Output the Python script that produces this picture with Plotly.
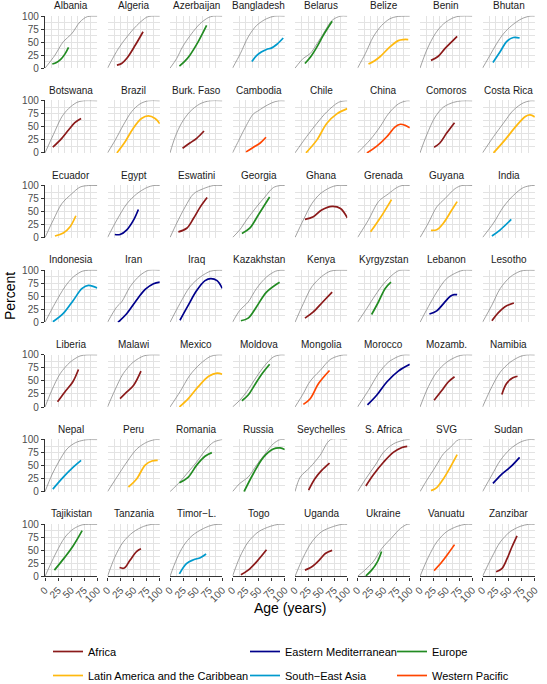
import plotly.graph_objects as go

countries = ["Albania", "Algeria", "Azerbaijan", "Bangladesh", "Belarus", "Belize", "Benin", "Bhutan",
             "Botswana", "Brazil", "Burk. Faso", "Cambodia", "Chile", "China", "Comoros", "Costa Rica",
             "Ecuador", "Egypt", "Eswatini", "Georgia", "Ghana", "Grenada", "Guyana", "India",
             "Indonesia", "Iran", "Iraq", "Kazakhstan", "Kenya", "Kyrgyzstan", "Lebanon", "Lesotho",
             "Liberia", "Malawi", "Mexico", "Moldova", "Mongolia", "Morocco", "Mozamb.", "Namibia",
             "Nepal", "Peru", "Romania", "Russia", "Seychelles", "S. Africa", "SVG", "Sudan",
             "Tajikistan", "Tanzania", "Timor\u2212L.", "Togo", "Uganda", "Ukraine", "Vanuatu", "Zanzibar"]

AF, EM, EU, LA, SE, WP = ("Africa", "Eastern Mediterranean", "Europe",
                          "Latin America and the Caribbean", "South\u2212East Asia", "Western Pacific")
regions = [EU, AF, EU, SE, EU, LA, AF, SE,
           AF, LA, AF, WP, LA, WP, AF, LA,
           LA, EM, AF, EU, AF, LA, LA, SE,
           SE, EM, EM, EU, AF, EU, EM, AF,
           AF, AF, LA, EU, WP, EM, AF, AF,
           SE, LA, EU, EU, AF, AF, LA, EM,
           EU, AF, SE, AF, AF, EU, WP, AF]

region_order = [AF, LA, EM, SE, EU, WP]
region_colors = ["#8B1A1A", "#FFB90F", "#00008B", "#009ACD", "#228B22", "#FF4500"]

# reference (grey) curves: age, percent
ref_age = [
    [0, 19, 35, 51, 67, 81, 100], [0, 21, 37, 56, 75, 84, 100], [0, 13, 24, 41, 57, 73, 83, 100],
    [0, 15, 30, 46, 65, 81, 100], [0, 16, 29, 42, 54, 71, 87, 100], [0, 15, 30, 46, 62, 75, 100],
    [0, 13, 29, 45, 64, 77, 100], [0, 11, 27, 40, 56, 75, 91, 100],
    [0, 16, 32, 45, 61, 73, 100], [0, 15, 30, 46, 62, 78, 100], [0, 10, 22, 38, 57, 76, 100],
    [0, 12, 25, 40, 48, 60, 75, 88, 100], [0, 22, 42, 61, 83, 96, 100], [0, 24, 43, 59, 78, 94, 100],
    [0, 13, 29, 45, 64, 80, 100], [0, 21, 40, 59, 78, 91, 100],
    [0, 16, 32, 51, 67, 83, 100], [0, 18, 37, 56, 75, 88, 100], [0, 13, 29, 45, 64, 83, 100],
    [0, 14, 27, 46, 62, 78, 91, 100], [0, 16, 32, 48, 67, 80, 100], [0, 21, 40, 59, 75, 85, 100],
    [0, 16, 32, 48, 67, 80, 100], [0, 21, 40, 59, 78, 94, 100],
    [0, 19, 38, 54, 71, 83, 100], [0, 18, 27, 43, 62, 79, 100], [0, 19, 38, 58, 77, 90, 100],
    [0, 14, 30, 46, 65, 82, 91, 100], [0, 16, 32, 51, 67, 80, 100], [0, 18, 34, 50, 69, 81, 100],
    [0, 16, 32, 51, 71, 83, 100], [0, 18, 34, 53, 72, 85, 100],
    [0, 13, 29, 48, 67, 80, 100], [0, 14, 30, 49, 69, 81, 100], [0, 19, 38, 58, 77, 90, 100],
    [0, 14, 27, 46, 62, 78, 91, 100], [0, 16, 26, 36, 48, 67, 83, 93, 100], [0, 21, 40, 59, 78, 88, 100],
    [0, 16, 32, 51, 71, 83, 100], [0, 18, 34, 53, 72, 85, 100],
    [0, 13, 26, 42, 58, 74, 83, 100], [0, 18, 37, 56, 75, 91, 100], [0, 19, 35, 51, 67, 83, 99, 100],
    [0, 14, 30, 46, 65, 78, 91, 100], [0, 10, 29, 48, 68, 100], [0, 18, 34, 50, 69, 85, 95, 100],
    [0, 13, 29, 45, 58, 74, 100], [0, 18, 34, 53, 72, 88, 100],
    [0, 10, 22, 38, 54, 71, 83, 100], [0, 14, 30, 49, 69, 85, 100], [0, 13, 26, 42, 64, 83, 96, 100],
    [0, 14, 30, 50, 72, 88, 100], [0, 16, 32, 51, 74, 90, 100], [0, 14, 30, 46, 66, 82, 95, 100],
    [0, 16, 32, 51, 71, 87, 100], [0, 18, 34, 53, 72, 88, 100],
]
ref_pct = [
    [0, 25, 51, 66, 89, 99, 100], [0, 38, 60, 82, 98, 100, 100], [0, 19, 41, 66, 85, 97, 100, 100],
    [0, 28, 60, 82, 95, 100, 100], [0, 19, 28, 47, 66, 92, 100, 100], [0, 28, 60, 82, 95, 99, 100],
    [0, 35, 66, 85, 97, 100, 100], [0, 19, 47, 66, 82, 95, 100, 100],
    [0, 35, 69, 85, 97, 100, 100], [0, 25, 53, 79, 94, 100, 100], [0, 31, 57, 79, 94, 100, 100],
    [0, 24, 50, 75, 80, 88, 96, 100, 100], [0, 31, 57, 79, 97, 100, 100], [0, 25, 50, 75, 94, 100, 100],
    [0, 35, 69, 88, 97, 100, 100], [0, 31, 57, 82, 96, 100, 100],
    [0, 34, 65, 84, 97, 100, 100], [0, 34, 65, 84, 96, 100, 100], [0, 28, 59, 84, 94, 100, 100],
    [0, 15, 34, 59, 78, 96, 100, 100], [0, 34, 65, 84, 96, 100, 100], [0, 34, 69, 84, 96, 100, 100],
    [0, 28, 59, 75, 94, 100, 100], [0, 28, 59, 81, 96, 100, 100],
    [0, 36, 68, 87, 98, 100, 100], [0, 30, 39, 68, 90, 100, 100], [0, 36, 68, 87, 98, 100, 100],
    [0, 23, 39, 65, 87, 98, 100, 100], [0, 36, 68, 88, 98, 100, 100], [0, 27, 52, 74, 93, 100, 100],
    [0, 30, 58, 84, 96, 100, 100], [0, 33, 65, 87, 98, 100, 100],
    [0, 32, 64, 86, 98, 100, 100], [0, 32, 64, 86, 98, 100, 100], [0, 29, 61, 83, 97, 100, 100],
    [0, 13, 29, 58, 80, 96, 100, 100], [0, 26, 45, 58, 70, 91, 98, 100, 100], [0, 32, 64, 86, 97, 100, 100],
    [0, 39, 67, 86, 97, 100, 100], [0, 39, 67, 86, 97, 100, 100],
    [0, 32, 57, 82, 94, 99, 100, 100], [0, 28, 57, 82, 95, 100, 100], [0, 19, 38, 57, 79, 95, 100, 100],
    [0, 16, 28, 51, 76, 92, 100, 100], [0, 28, 47, 70, 100, 100], [0, 28, 51, 76, 92, 98, 100, 100],
    [0, 22, 47, 73, 85, 100, 100], [0, 32, 60, 82, 95, 100, 100],
    [0, 22, 47, 75, 91, 99, 100, 100], [0, 37, 66, 85, 96, 100, 100], [0, 34, 59, 78, 92, 99, 100, 100],
    [0, 37, 66, 86, 96, 100, 100], [0, 37, 66, 86, 96, 100, 100], [0, 12, 28, 53, 75, 92, 100, 100],
    [0, 37, 66, 86, 96, 100, 100], [0, 37, 66, 86, 96, 100, 100],
]

# observed (coloured) curves: age, percent
obs_age = [
    [14, 22, 30, 38, 45], [18, 27, 37, 53, 68], [18, 28, 38, 54, 70], [37, 46, 55, 65, 75, 85, 97],
    [19, 30, 42, 54, 71], [21, 32, 43, 62, 78, 88, 97], [21, 35, 48, 60, 71], [20, 34, 46, 59, 71],
    [15, 32, 45, 57, 69], [18, 34, 49, 65, 78, 91, 100], [24, 38, 51, 65], [26, 40, 53, 64],
    [21, 42, 61, 80, 100], [18, 37, 56, 72, 82, 91, 100], [27, 38, 51, 66], [21, 43, 63, 82, 91, 100],
    [19, 35, 48, 59], [14, 24, 37, 50, 59], [16, 32, 45, 58, 71], [18, 33, 49, 71],
    [19, 35, 51, 71, 87, 100], [25, 43, 65], [21, 32, 45, 59, 71], [18, 34, 55],
    [15, 35, 54, 71, 83, 100], [20, 37, 53, 72, 88, 100], [19, 35, 51, 67, 78, 90, 100], [16, 30, 46, 65, 90],
    [19, 35, 53, 71], [27, 40, 53, 64], [18, 32, 45, 58, 65, 71], [18, 30, 43, 60],
    [24, 38, 53, 64], [24, 37, 50, 64], [18, 35, 54, 74, 90, 100], [18, 30, 46, 59, 71],
    [16, 29, 45, 66], [19, 37, 56, 78, 100], [27, 42, 54, 66], [37, 46, 58, 67],
    [15, 35, 54, 69], [40, 56, 72, 85, 96], [18, 35, 51, 67, 80], [22, 40, 59, 78, 91, 100],
    [26, 38, 51, 66], [16, 30, 50, 69, 85, 95], [21, 32, 45, 58, 71], [20, 35, 53, 71],
    [18, 38, 54, 71], [23, 32, 43, 56, 64], [18, 32, 45, 58, 69], [16, 30, 46, 65],
    [19, 30, 38, 48, 58, 71], [16, 27, 38, 46], [27, 42, 54, 66], [26, 37, 47, 56, 66],
]
obs_pct = [
    [8, 11, 17, 27, 40], [6, 9, 19, 44, 70], [4, 13, 25, 51, 82], [13, 24, 31, 36, 39, 46, 58],
    [9, 22, 41, 63, 90], [8, 14, 22, 41, 53, 55, 55], [15, 23, 38, 50, 61], [11, 32, 51, 59, 58],
    [11, 28, 44, 58, 66], [0, 22, 47, 66, 71, 66, 56], [9, 19, 28, 42], [2, 11, 19, 30],
    [0, 25, 57, 75, 85], [0, 13, 31, 50, 55, 53, 48], [11, 19, 38, 58], [0, 25, 50, 70, 73, 69],
    [3, 9, 21, 42], [6, 6, 15, 34, 54], [11, 18, 37, 59, 77], [8, 18, 43, 78],
    [35, 40, 53, 60, 56, 38], [11, 37, 73], [14, 15, 28, 50, 69], [3, 15, 35],
    [1, 17, 42, 65, 71, 66], [0, 17, 39, 63, 74, 77], [4, 33, 61, 80, 84, 80, 65], [3, 8, 30, 58, 77],
    [8, 20, 39, 58], [15, 39, 65, 77], [16, 22, 36, 50, 53, 53], [3, 18, 30, 37],
    [10, 29, 48, 72], [16, 29, 42, 69], [0, 16, 39, 59, 65, 63], [12, 23, 48, 67, 82],
    [5, 16, 45, 70], [4, 23, 48, 69, 82], [13, 32, 48, 58], [24, 45, 56, 59],
    [5, 28, 47, 60], [9, 25, 51, 59, 60], [17, 28, 51, 68, 75], [0, 35, 66, 82, 84, 81],
    [3, 25, 41, 55], [11, 32, 57, 76, 85, 87], [2, 8, 25, 47, 71], [16, 32, 47, 66],
    [12, 37, 59, 88], [17, 16, 31, 48, 53], [5, 25, 32, 36, 43], [3, 12, 28, 51],
    [12, 17, 23, 33, 44, 50], [1, 12, 28, 48], [11, 28, 44, 61], [9, 15, 34, 56, 78],
]

tick_vals = [0, 25, 50, 75, 100]
tick_text = ["0", "25", "50", "75", "100"]

# ---------------------------------------------------------------- layout
W, H = 547, 684
NCOL = 8
COL0, COLSTEP, PW = 45.0, 62.5, 52.3
ROW0, ROWSTEP, PH = 15.7, 84.7, 52.5
FONT = "Liberation Sans, Arial, sans-serif"
GRID = "#e3e3e3"
AXC = "#333333"

fig = go.Figure()
layout = {}
annotations = []
first_seen = set()
legend_of = {AF: "legend", LA: "legend", EM: "legend2", SE: "legend2", EU: "legend3", WP: "legend3"}

for i, name in enumerate(countries):
    r, c = divmod(i, NCOL)
    k = i + 1
    xa = "x" if k == 1 else f"x{k}"
    ya = "y" if k == 1 else f"y{k}"
    x0 = COL0 + c * COLSTEP
    x1 = x0 + PW
    top = ROW0 + r * ROWSTEP
    bot = top + PH
    bottom_row = (r == 6)
    left_col = (c == 0)

    layout["xaxis" if k == 1 else f"xaxis{k}"] = dict(
        domain=[x0 / W, x1 / W], range=[0, 100], anchor=ya, fixedrange=True,
        tickvals=tick_vals, ticktext=tick_text, showticklabels=bottom_row, tickangle=-45,
        ticks="outside" if bottom_row else "", ticklen=3, tickcolor=AXC, tickwidth=1.2,
        tickfont=dict(size=10, color="#4d4d4d", family=FONT),
        showgrid=True, gridcolor=GRID, gridwidth=0.7, zeroline=False,
        minor=dict(tickvals=[12.5, 37.5, 62.5, 87.5], showgrid=True, gridcolor=GRID, gridwidth=0.7),
        showline=bottom_row, linecolor=AXC, linewidth=1.4, automargin=False,
    )
    layout["yaxis" if k == 1 else f"yaxis{k}"] = dict(
        domain=[1 - bot / H, 1 - top / H], range=[0, 100.8], anchor=xa, fixedrange=True,
        tickvals=tick_vals, ticktext=tick_text, showticklabels=left_col,
        ticks="outside" if left_col else "", ticklen=3, tickcolor=AXC, tickwidth=1.2,
        tickfont=dict(size=10, color="#4d4d4d", family=FONT),
        showgrid=True, gridcolor=GRID, gridwidth=0.7, zeroline=False,
        minor=dict(tickvals=[12.5, 37.5, 62.5, 87.5], showgrid=True, gridcolor=GRID, gridwidth=0.7),
        showline=left_col, linecolor=AXC, linewidth=1.4, automargin=False,
    )

    fig.add_trace(go.Scatter(
        x=ref_age[i], y=ref_pct[i], mode="lines", xaxis=xa, yaxis=ya,
        line=dict(color="#8a8a8a", width=0.8, shape="spline", smoothing=0.9),
        showlegend=False, hoverinfo="skip"))

    reg = regions[i]
    ri = region_order.index(reg)
    show = reg not in first_seen
    first_seen.add(reg)
    fig.add_trace(go.Scatter(
        x=obs_age[i], y=obs_pct[i], mode="lines", xaxis=xa, yaxis=ya,
        line=dict(color=region_colors[ri], width=1.7, shape="spline", smoothing=1.0),
        name=reg, legendgroup=reg, showlegend=show, legend=legend_of[reg],
        legendrank=ri + 1, hovertemplate=name + "<br>%{x}, %{y}%<extra></extra>"))

    annotations.append(dict(
        text=name, x=(x0 + x1) / 2 / W, y=1 - (top - 10) / H, xref="paper", yref="paper",
        xanchor="center", yanchor="middle", showarrow=False,
        font=dict(size=10, color="#1a1a1a", family=FONT)))

annotations.append(dict(text="Percent", x=10 / W, y=1 - 296 / H, xref="paper", yref="paper",
                        textangle=-90, showarrow=False, xanchor="center", yanchor="middle",
                        font=dict(size=14, color="black", family=FONT)))
annotations.append(dict(text="Age (years)", x=290 / W, y=1 - 608 / H, xref="paper", yref="paper",
                        showarrow=False, xanchor="center", yanchor="middle",
                        font=dict(size=14, color="black", family=FONT)))

leg_common = dict(orientation="v", yanchor="top", y=1 - 637 / H, xanchor="left",
                  bgcolor="rgba(0,0,0,0)", font=dict(size=11, color="black", family=FONT),
                  traceorder="grouped", tracegroupgap=5, itemwidth=30)

fig.update_layout(
    width=W, height=H, margin=dict(l=0, r=0, t=0, b=0, autoexpand=False),
    paper_bgcolor="white", plot_bgcolor="white",
    font=dict(family=FONT),
    annotations=annotations,
    legend=dict(x=48 / W, **leg_common),
    legend2=dict(x=245 / W, **leg_common),
    legend3=dict(x=392 / W, **leg_common),
    **layout,
)

fig.write_html("out.html", config={"displayModeBar": False},
               post_script="document.body.style.margin='0px';")
